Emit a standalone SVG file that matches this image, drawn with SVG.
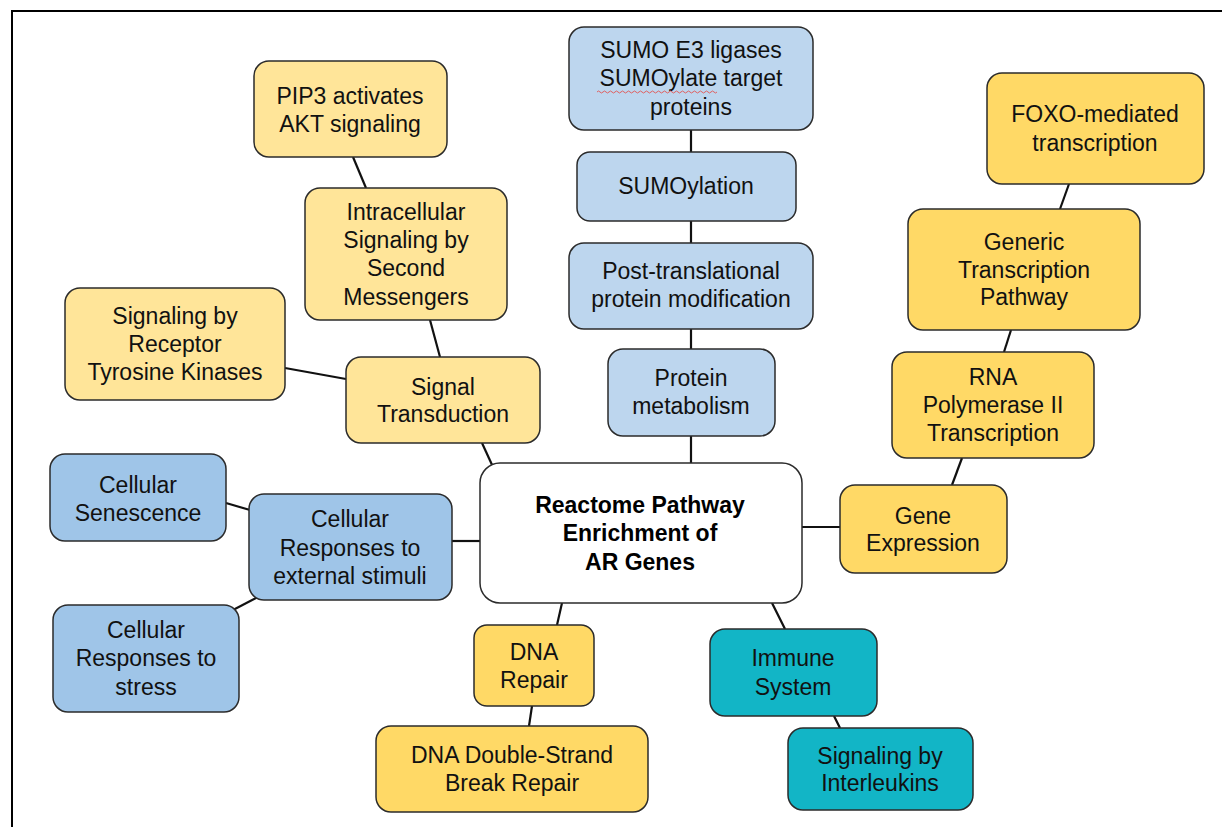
<svg xmlns="http://www.w3.org/2000/svg" width="1222" height="827" viewBox="0 0 1222 827">
<style>
.n{stroke:#2b2b2b;stroke-width:1.5}
.ly{fill:#FFE599}
.dy{fill:#FFD966}
.lb{fill:#BDD6EE}
.mb{fill:#9FC5E8}
.cy{fill:#12B5C6}
.w{fill:#FFFFFF}
text{font-family:"Liberation Sans",Arial,sans-serif;font-size:23px;fill:#111;text-anchor:middle}
.b{font-weight:bold;font-size:23px;fill:#000}
#edges line{stroke:#111;stroke-width:2.2}
</style>
<rect x="12" y="11" width="1230" height="840" fill="#fff" stroke="#000" stroke-width="2"/>
<g id="edges">
<line x1="353" y1="157" x2="366" y2="188"/>
<line x1="430" y1="320" x2="440" y2="357"/>
<line x1="285" y1="368" x2="346" y2="379"/>
<line x1="482" y1="443" x2="493" y2="467"/>
<line x1="691" y1="130" x2="691" y2="152"/>
<line x1="691" y1="221" x2="691" y2="243"/>
<line x1="691" y1="329" x2="691" y2="349"/>
<line x1="691" y1="436" x2="691" y2="463"/>
<line x1="1069" y1="184" x2="1060" y2="209"/>
<line x1="1011" y1="330" x2="1004" y2="352"/>
<line x1="962" y1="458" x2="952" y2="485"/>
<line x1="802" y1="527" x2="840" y2="527"/>
<line x1="452" y1="541" x2="480" y2="541"/>
<line x1="226" y1="503" x2="250" y2="510"/>
<line x1="258" y1="597" x2="233" y2="610"/>
<line x1="562" y1="603" x2="557" y2="625"/>
<line x1="532" y1="706" x2="529" y2="726"/>
<line x1="772" y1="603" x2="785" y2="629"/>
<line x1="834" y1="716" x2="840" y2="728"/>
</g>
<g id="pip3"><rect class="n ly" x="254" y="61" width="193" height="96" rx="15"/><text x="350" y="104">PIP3 activates</text><text x="350" y="132">AKT signaling</text></g>
<g id="intracellular"><rect class="n ly" x="305" y="188" width="202" height="132" rx="15"/><text x="406" y="220">Intracellular</text><text x="406" y="248">Signaling by</text><text x="406" y="276">Second</text><text x="406" y="305">Messengers</text></g>
<g id="rtk"><rect class="n ly" x="65" y="288" width="220" height="112" rx="15"/><text x="175" y="324">Signaling by</text><text x="175" y="352">Receptor</text><text x="175" y="380">Tyrosine Kinases</text></g>
<g id="signal"><rect class="n ly" x="346" y="357" width="194" height="86" rx="15"/><text x="443" y="395">Signal</text><text x="443" y="422">Transduction</text></g>
<g id="sumoe3"><rect class="n lb" x="569" y="27" width="244" height="103" rx="15"/><text x="691" y="58">SUMO E3 ligases</text><text x="691" y="86">SUMOylate target</text><text x="691" y="115">proteins</text><path d="M597 92 q1.5 -2 3 0 t3 0 t3 0 t3 0 t3 0 t3 0 t3 0 t3 0 t3 0 t3 0 t3 0 t3 0 t3 0 t3 0 t3 0 t3 0 t3 0 t3 0 t3 0 t3 0 t3 0 t3 0 t3 0 t3 0 t3 0 t3 0 t3 0 t3 0 t3 0 t3 0 t3 0 t3 0 t3 0 t3 0 t3 0 t3 0 t3 0 t3 0 t3 0 t3 0" fill="none" stroke="#e06060" stroke-width="1"/></g>
<g id="sumoylation"><rect class="n lb" x="577" y="152" width="219" height="69" rx="13"/><text x="686" y="194">SUMOylation</text></g>
<g id="ptm"><rect class="n lb" x="569" y="243" width="244" height="86" rx="15"/><text x="691" y="279">Post-translational</text><text x="691" y="307">protein modification</text></g>
<g id="protmet"><rect class="n lb" x="608" y="349" width="167" height="87" rx="15"/><text x="691" y="386">Protein</text><text x="691" y="414">metabolism</text></g>
<g id="foxo"><rect class="n dy" x="987" y="73" width="217" height="111" rx="15"/><text x="1095" y="122">FOXO-mediated</text><text x="1095" y="151">transcription</text></g>
<g id="generic"><rect class="n dy" x="908" y="209" width="232" height="121" rx="15"/><text x="1024" y="250">Generic</text><text x="1024" y="278">Transcription</text><text x="1024" y="305">Pathway</text></g>
<g id="rnapol"><rect class="n dy" x="892" y="352" width="202" height="106" rx="15"/><text x="993" y="385">RNA</text><text x="993" y="413">Polymerase II</text><text x="993" y="441">Transcription</text></g>
<g id="geneexp"><rect class="n dy" x="840" y="485" width="167" height="88" rx="15"/><text x="923" y="524">Gene</text><text x="923" y="551">Expression</text></g>
<g id="center"><rect class="n w" x="480" y="463" width="322" height="140" rx="20"/><text class="b" x="640" y="513">Reactome Pathway</text><text class="b" x="640" y="541">Enrichment of</text><text class="b" x="640" y="570">AR Genes</text></g>
<g id="senescence"><rect class="n mb" x="50" y="454" width="176" height="87" rx="15"/><text x="138" y="493">Cellular</text><text x="138" y="521">Senescence</text></g>
<g id="external"><rect class="n mb" x="249" y="494" width="203" height="106" rx="15"/><text x="350" y="527">Cellular</text><text x="350" y="556">Responses to</text><text x="350" y="584">external stimuli</text></g>
<g id="stress"><rect class="n mb" x="53" y="605" width="186" height="107" rx="15"/><text x="146" y="638">Cellular</text><text x="146" y="666">Responses to</text><text x="146" y="695">stress</text></g>
<g id="dnarepair"><rect class="n dy" x="474" y="625" width="120" height="81" rx="13"/><text x="534" y="660">DNA</text><text x="534" y="688">Repair</text></g>
<g id="dsb"><rect class="n dy" x="376" y="726" width="272" height="86" rx="15"/><text x="512" y="763">DNA Double-Strand</text><text x="512" y="791">Break Repair</text></g>
<g id="immune"><rect class="n cy" x="710" y="629" width="167" height="87" rx="15"/><text x="793" y="666">Immune</text><text x="793" y="695">System</text></g>
<g id="interleukins"><rect class="n cy" x="788" y="728" width="185" height="82" rx="15"/><text x="880" y="764">Signaling by</text><text x="880" y="791">Interleukins</text></g>
</svg>
